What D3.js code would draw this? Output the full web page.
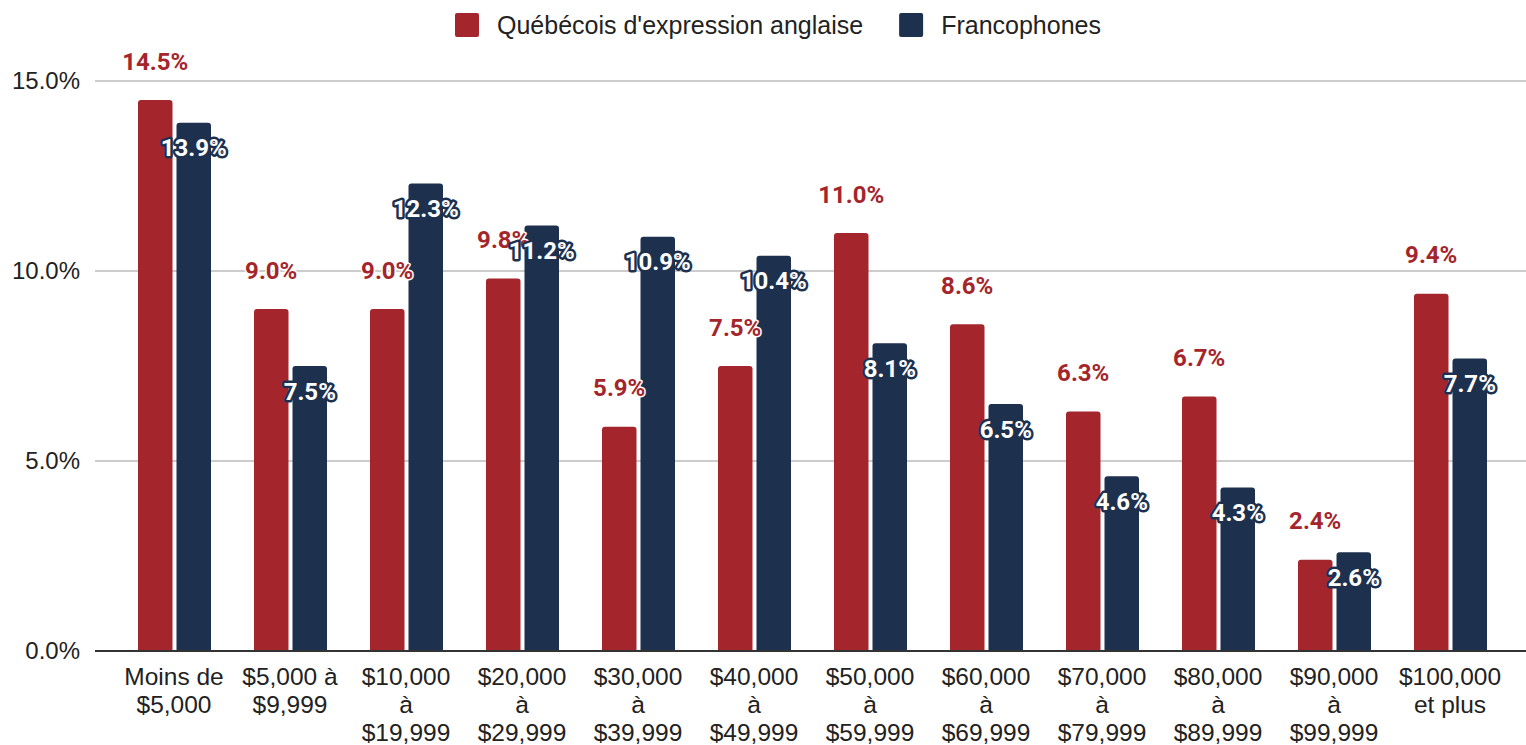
<!doctype html>
<html lang="fr">
<head>
<meta charset="UTF-8">
<title>Revenu</title>
<script src="https://d3js.org/d3.v7.min.js"></script>
<style>
  body { margin: 0; background: #fff; }
  svg text { font-family: "Liberation Sans", Arial, sans-serif; }
</style>
</head>
<body>
<div id="chart"></div>
<script>
// data
var categories = ["Moins de\n$5,000", "$5,000 à\n$9,999", "$10,000\nà\n$19,999", "$20,000\nà\n$29,999",
  "$30,000\nà\n$39,999", "$40,000\nà\n$49,999", "$50,000\nà\n$59,999", "$60,000\nà\n$69,999",
  "$70,000\nà\n$79,999", "$80,000\nà\n$89,999", "$90,000\nà\n$99,999", "$100,000\net plus"];
var seriesNames = ["Québécois d'expression anglaise", "Francophones"];
var anglais = [14.5, 9.0, 9.0, 9.8, 5.9, 7.5, 11.0, 8.6, 6.3, 6.7, 2.4, 9.4];
var franco = [13.9, 7.5, 12.3, 11.2, 10.9, 10.4, 8.1, 6.5, 4.6, 4.3, 2.6, 7.7];
var yTicks = [0, 5, 10, 15];

var colors = ["#a4262c", "#1d314f"];
var width = 1526, height = 745;

var svg = d3.select("#chart").append("svg")
  .attr("width", width)
  .attr("height", height);

var x = d3.scaleBand().domain(categories).range([116, 1508]);
var xs = d3.scaleBand().domain([0, 1]).range([22, 95]).paddingInner(0.104);
var y = d3.scaleLinear().domain([0, 15]).range([651, 81]);

// gridlines
svg.append("g").selectAll("line")
  .data(yTicks.filter(function(d){ return d > 0; }))
  .enter().append("line")
  .attr("x1", 95).attr("x2", 1526)
  .attr("y1", function(d){ return y(d); })
  .attr("y2", function(d){ return y(d); })
  .attr("stroke", "#cccccc")
  .attr("stroke-width", 2);

// y axis labels
var yAxis = d3.axisLeft(y).tickValues(yTicks)
  .tickFormat(function(d){ return d.toFixed(1) + "%"; })
  .tickSize(0).tickPadding(0);
svg.append("g")
  .attr("transform", "translate(80,0)")
  .call(yAxis)
  .call(function(g){ g.select(".domain").remove(); })
  .selectAll("text")
  .attr("font-size", 24)
  .attr("font-family", "Liberation Sans, Arial, sans-serif")
  .attr("fill", "#222");

// bars
var rows = categories.map(function(c, i){ return { cat: c, vals: [anglais[i], franco[i]] }; });

function topRounded(x0, y0, w, h, r) {
  return "M" + x0 + "," + (y0 + h) +
    "V" + (y0 + r) +
    "Q" + x0 + "," + y0 + " " + (x0 + r) + "," + y0 +
    "H" + (x0 + w - r) +
    "Q" + (x0 + w) + "," + y0 + " " + (x0 + w) + "," + (y0 + r) +
    "V" + (y0 + h) + "Z";
}

var groups = svg.append("g").selectAll("g")
  .data(rows)
  .enter().append("g")
  .attr("transform", function(d){ return "translate(" + x(d.cat) + ",0)"; });

groups.selectAll("path")
  .data(function(d){ return d.vals.map(function(v, s){ return { v: v, s: s }; }); })
  .enter().append("path")
  .attr("fill", function(d){ return colors[d.s]; })
  .attr("d", function(d){
    return topRounded(xs(d.s), y(d.v), xs.bandwidth(), y(0) - y(d.v), 3);
  });

// baseline
svg.append("line")
  .attr("x1", 95).attr("x2", 1526)
  .attr("y1", y(0)).attr("y2", y(0))
  .attr("stroke", "#333").attr("stroke-width", 2);

// value labels
groups.selectAll("text.val")
  .data(function(d){ return d.vals.map(function(v, s){ return { v: v, s: s }; }); })
  .enter().append("text")
  .attr("class", "val")
  .attr("x", function(d){ return xs(d.s) + xs.bandwidth() / 2; })
  .attr("y", function(d){ return d.s === 0 ? y(d.v) - 39 : y(d.v) + 25; })
  .attr("dy", "0.36em")
  .attr("text-anchor", "middle")
  .style("font-family", "Roboto, sans-serif")
  .style("font-weight", "bold")
  .style("font-size", "24px")
  .style("paint-order", "stroke")
  .attr("fill", function(d){ return d.s === 0 ? colors[0] : "#fff"; })
  .attr("stroke", function(d){ return d.s === 0 ? "#fff" : colors[1]; })
  .attr("stroke-width", function(d){ return d.s === 0 ? 3 : 5; })
  .attr("stroke-linejoin", "round")
  .text(function(d){ return d.v.toFixed(1) + "%"; });

// category labels
var xAxis = d3.axisBottom(x).tickSize(0).tickPadding(0).tickFormat("");
var xg = svg.append("g").attr("transform", "translate(0," + y(0) + ")").call(xAxis);
xg.select(".domain").remove();
xg.selectAll(".tick").append("text")
  .attr("text-anchor", "middle")
  .attr("fill", "#222")
  .attr("font-size", 24.5)
  .attr("font-family", "Liberation Sans, Arial, sans-serif")
  .each(function(d){
    var t = d3.select(this);
    d.split("\n").forEach(function(line, i){
      t.append("tspan").attr("x", 0).attr("y", 33.5 + i * 28).text(line);
    });
  });

// legend
var legend = svg.append("g").attr("transform", "translate(455,0)");
var items = legend.selectAll("g").data(seriesNames).enter().append("g");
items.append("rect")
  .attr("width", 24).attr("height", 24).attr("rx", 2)
  .attr("y", 13)
  .attr("fill", function(d, i){ return colors[i]; });
items.append("text")
  .attr("x", 42).attr("y", 25).attr("dy", "0.36em")
  .attr("font-size", 25)
  .attr("fill", "#222")
  .text(function(d){ return d; });
var offset = 0;
items.each(function(){
  d3.select(this).attr("transform", "translate(" + offset + ",0)");
  offset += this.getBBox().width + 36;
});
</script>
</body>
</html>
